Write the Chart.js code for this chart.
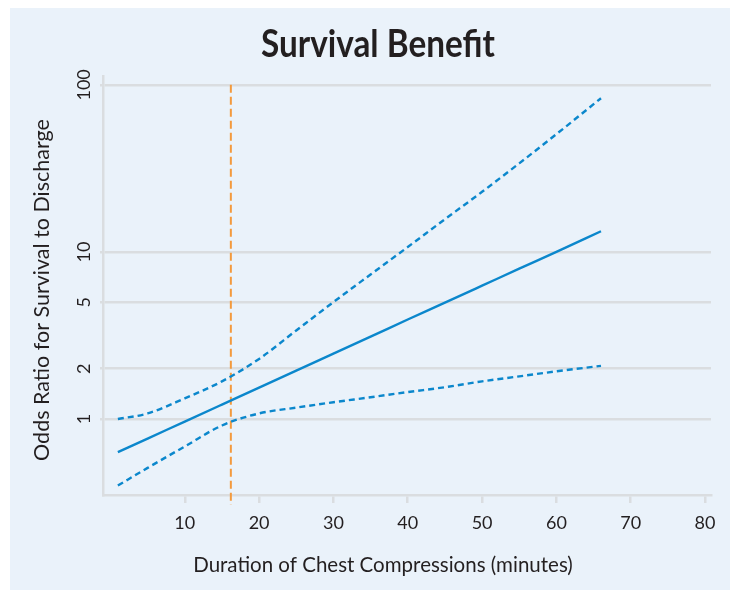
<!DOCTYPE html>
<html>
<head>
<meta charset="utf-8">
<script src="https://cdn.jsdelivr.net/npm/chart.js@4.4.1/dist/chart.umd.min.js"></script>
<style>
  html, body { margin: 0; padding: 0; background: #ffffff; }
  #wrap { width: 730px; height: 590px; position: relative; }
  canvas { display: block; }
</style>
</head>
<body>
<div id="wrap"><canvas id="c" width="730" height="590"></canvas></div>
<script>
// ---- Data ----
const minutes     = [1, 5, 10, 15, 20, 25, 30, 35, 40, 45, 50, 55, 60, 66];
const oddsRatio   = [0.634, 0.764, 0.966, 1.22, 1.54, 1.95, 2.46, 3.11, 3.94, 4.97, 6.28, 7.94, 10.0, 13.3];
const upperCI     = [1.00, 1.08, 1.33, 1.68, 2.29, 3.39, 5.01, 7.33, 10.7, 15.7, 22.9, 33.9, 50.7, 83.2];
const lowerCI     = [0.40, 0.51, 0.685, 0.915, 1.08, 1.17, 1.26, 1.35, 1.45, 1.55, 1.68, 1.80, 1.93, 2.08];
const yTickValues = [1, 2, 5, 10, 100];
const xTickValues = [10, 20, 30, 40, 50, 60, 70, 80];
const markerMinute = 16.2;

const titleText  = 'Survival Benefit';
const xTitleText = 'Duration of Chest Compressions (minutes)';
const yTitleText = 'Odds Ratio for Survival to Discharge';

const BLUE = '#0b87cc';
const ORANGE = '#f39a3d';
const GRID = '#dadde0';
const TEXT = '#231f20';
const TICK_FONT = 'Lato, "DejaVu Sans Condensed", sans-serif';

function pts(ys) { return minutes.map((m, i) => ({ x: m, y: ys[i] })); }

const bgPlugin = {
  id: 'bg',
  beforeDraw(chart) {
    const ctx = chart.ctx;
    ctx.save();
    ctx.fillStyle = '#ffffff';
    ctx.fillRect(0, 0, chart.width, chart.height);
    ctx.fillStyle = '#eaf2fa';
    ctx.fillRect(10, 8, chart.width - 10, chart.height - 8);
    ctx.restore();
  }
};

const markerPlugin = {
  id: 'marker',
  beforeDatasetsDraw(chart) {
    const xs = chart.scales.x, ys = chart.scales.y;
    const x = xs.getPixelForValue(markerMinute);
    const top = ys.getPixelForValue(100);
    const bottom = chart.chartArea.bottom + 10;
    const ctx = chart.ctx;
    ctx.save();
    ctx.strokeStyle = ORANGE;
    ctx.lineWidth = 2;
    ctx.setLineDash([8, 4]);
    ctx.beginPath();
    ctx.moveTo(x, top);
    ctx.lineTo(x, bottom);
    ctx.stroke();
    ctx.restore();
  }
};

const titlesPlugin = {
  id: 'titles',
  afterDraw(chart) {
    const ctx = chart.ctx;
    ctx.save();
    ctx.fillStyle = TEXT;
    ctx.textAlign = 'center';
    ctx.textBaseline = 'middle';
    // main title, condensed horizontally like the original
    ctx.font = 'bold 38px Lato, "DejaVu Sans", sans-serif';
    const w = ctx.measureText(titleText).width;
    const sx = Math.min(1, 234 / w);
    ctx.save();
    ctx.translate(378, 45);
    ctx.scale(sx, 1);
    ctx.fillText(titleText, 0, 0);
    ctx.restore();
    // axis titles
    ctx.font = '400 20.5px Lato, "Open Sans", sans-serif';
    ctx.fillText(xTitleText, 383, 565);
    ctx.font = '400 21.5px Lato, "Open Sans", sans-serif';
    ctx.translate(42, 290);
    ctx.rotate(-Math.PI / 2);
    ctx.fillText(yTitleText, 0, 0);
    ctx.restore();
  }
};

const lineCommon = {
  borderColor: BLUE,
  borderWidth: 2.4,
  pointRadius: 0,
  fill: false,
  cubicInterpolationMode: 'monotone'
};

new Chart(document.getElementById('c'), {
  type: 'line',
  data: {
    datasets: [
      Object.assign({ label: 'Upper 95% CI', data: pts(upperCI), borderDash: [6, 4] }, lineCommon),
      Object.assign({ label: 'Odds ratio', data: pts(oddsRatio) }, lineCommon),
      Object.assign({ label: 'Lower 95% CI', data: pts(lowerCI), borderDash: [6, 4] }, lineCommon)
    ]
  },
  options: {
    responsive: false,
    animation: false,
    devicePixelRatio: 1,
    layout: { padding: { left: 10, top: 76, right: 19, bottom: 0 } },
    plugins: {
      legend: { display: false },
      title: { display: false },
      tooltip: { enabled: false }
    },
    scales: {
      x: {
        type: 'linear',
        min: -1,
        max: 80.8,
        afterBuildTicks(scale) { scale.ticks = xTickValues.map(v => ({ value: v })); },
        afterFit(scale) { scale.height = 95; },
        ticks: {
          color: TEXT,
          padding: 9,
          maxRotation: 0,
          font: { family: TICK_FONT, size: 18 },
          callback: v => String(v)
        },
        grid: { drawOnChartArea: false, drawTicks: true, tickLength: 8, color: GRID, lineWidth: 2.5 },
        border: { display: true, color: GRID, width: 2.5 }
      },
      y: {
        type: 'logarithmic',
        min: 0.351,
        max: 113,
        afterBuildTicks(scale) { scale.ticks = yTickValues.map(v => ({ value: v })); },
        afterFit(scale) { scale.width = 93; },
        ticks: {
          color: TEXT,
          padding: 0,
          minRotation: 90,
          maxRotation: 90,
          crossAlign: 'center',
          font: { family: TICK_FONT, size: 18 },
          callback: v => String(v)
        },
        grid: { drawOnChartArea: true, drawTicks: true, tickLength: 3, color: GRID, lineWidth: 2.5 },
        border: { display: true, color: GRID, width: 2.5 }
      }
    }
  },
  plugins: [bgPlugin, markerPlugin, titlesPlugin]
});
</script>
</body>
</html>
